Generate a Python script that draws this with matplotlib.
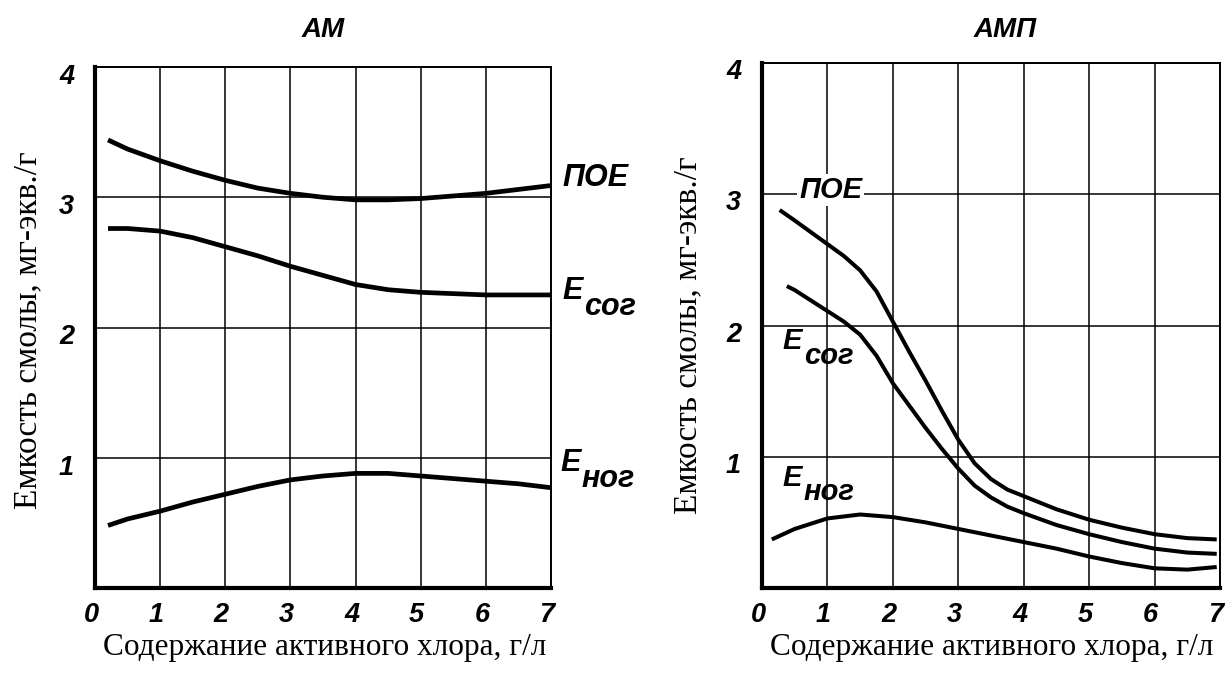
import matplotlib
matplotlib.use("Agg")
import matplotlib.pyplot as plt
from matplotlib.transforms import ScaledTranslation

# ---- data ----
x_am = [0.2, 0.5, 1, 1.5, 2, 2.5, 3, 3.5, 4, 4.5, 5, 5.5, 6, 6.5, 7]
am_poe = [3.44, 3.37, 3.28, 3.20, 3.13, 3.07, 3.03, 3.00, 2.98, 2.98, 2.99, 3.01, 3.03, 3.06, 3.09]
am_ecor = [2.76, 2.76, 2.74, 2.69, 2.62, 2.55, 2.47, 2.40, 2.33, 2.29, 2.27, 2.26, 2.25, 2.25, 2.25]
am_enor = [0.48, 0.53, 0.59, 0.66, 0.72, 0.78, 0.83, 0.86, 0.88, 0.88, 0.86, 0.84, 0.82, 0.80, 0.77]

x_amp_poe = [0.27, 0.5, 1, 1.25, 1.5, 1.75, 2, 2.25, 2.5, 2.75, 3, 3.25, 3.5, 3.75, 4, 4.5, 5, 5.5, 6, 6.5, 6.95]
amp_poe = [2.88, 2.80, 2.62, 2.53, 2.42, 2.26, 2.03, 1.80, 1.58, 1.35, 1.13, 0.95, 0.83, 0.75, 0.70, 0.60, 0.52, 0.46, 0.41, 0.38, 0.37]
x_amp_ecor = [0.38, 0.5, 1, 1.25, 1.5, 1.75, 2, 2.25, 2.5, 2.75, 3, 3.25, 3.5, 3.75, 4, 4.5, 5, 5.5, 6, 6.5, 6.95]
amp_ecor = [2.30, 2.27, 2.11, 2.03, 1.93, 1.77, 1.56, 1.39, 1.22, 1.06, 0.91, 0.78, 0.69, 0.62, 0.57, 0.48, 0.41, 0.35, 0.30, 0.27, 0.26]
x_amp_enor = [0.15, 0.5, 1, 1.5, 2, 2.5, 3, 3.5, 4, 4.5, 5, 5.5, 6, 6.5, 6.95]
amp_enor = [0.37, 0.45, 0.53, 0.56, 0.54, 0.50, 0.45, 0.40, 0.35, 0.30, 0.24, 0.19, 0.15, 0.14, 0.16]

x_ticks = [0, 1, 2, 3, 4, 5, 6, 7]
y_ticks = [1, 2, 3, 4]
titles = ["АМ", "АМП"]
xlabel = "Содержание активного хлора, г/л"
ylabel = "Емкость смолы, мг-экв./г"

W, H = 1227, 673
fig = plt.figure(figsize=(W / 100, H / 100), dpi=100)

SANS = "Liberation Sans"
SERIF = "Liberation Serif"


def px_axes(l, t, r, b):
    return fig.add_axes([l / W, 1 - b / H, (r - l) / W, (b - t) / H])


axL = px_axes(95, 67, 551, 588)
axR = px_axes(762, 63, 1220, 588)


def style(ax, ydown):
    ax.set_xlim(0, 7)
    ax.set_ylim(0, 4)
    ax.set_xticks(x_ticks)
    ax.set_yticks(y_ticks)
    ax.set_xticklabels([str(v) for v in x_ticks])
    ax.set_yticklabels([str(v) for v in y_ticks])
    ax.grid(True, color="black", linewidth=1.1)
    ax.set_axisbelow(True)
    ax.tick_params(length=0)
    ax.tick_params(axis="x", pad=10)
    ax.tick_params(axis="y", pad=15)
    for lab in ax.get_xticklabels() + ax.get_yticklabels():
        lab.set_fontfamily(SANS)
        lab.set_fontweight("bold")
        lab.set_fontstyle("italic")
        lab.set_fontsize(19.5)
    for lab in ax.get_yticklabels():
        lab.set_transform(lab.get_transform() + ScaledTranslation(0, -ydown / 100, fig.dpi_scale_trans))
    for lab in ax.get_xticklabels():
        lab.set_transform(lab.get_transform() + ScaledTranslation(-4 / 100, 0, fig.dpi_scale_trans))
    ax.spines["left"].set_linewidth(3.0)
    ax.spines["bottom"].set_linewidth(3.0)
    ax.spines["top"].set_linewidth(1.4)
    ax.spines["right"].set_linewidth(1.4)


style(axL, 7)
style(axR, 6)

lwL = 3.4
axL.plot(x_am, am_poe, color="black", lw=lwL, solid_capstyle="butt", zorder=3)
axL.plot(x_am, am_ecor, color="black", lw=lwL, solid_capstyle="butt", zorder=3)
axL.plot(x_am, am_enor, color="black", lw=lwL, solid_capstyle="butt", zorder=3)

lwR = 2.9
axR.plot(x_amp_poe, amp_poe, color="black", lw=lwR, solid_capstyle="butt", zorder=3)
axR.plot(x_amp_ecor, amp_ecor, color="black", lw=lwR, solid_capstyle="butt", zorder=3)
axR.plot(x_amp_enor, amp_enor, color="black", lw=lwR, solid_capstyle="butt", zorder=3)

lab_kw = dict(family=SANS, weight="bold", style="italic", color="black", clip_on=False)

# left panel curve labels
axL.text(7.17, 3.15, "ПОЕ", fontsize=22, ha="left", va="center", **lab_kw)
axL.text(7.18, 2.28, "E", fontsize=22, ha="left", va="center", **lab_kw)
axL.text(7.5, 2.16, "сог", fontsize=22, ha="left", va="center", **lab_kw)
axL.text(7.15, 0.96, "E", fontsize=22, ha="left", va="center", **lab_kw)
axL.text(7.47, 0.84, "ног", fontsize=22, ha="left", va="center", **lab_kw)

# right panel curve labels
axR.text(1.05, 3.03, "ПОЕ", fontsize=21, ha="center", va="center", zorder=4,
         bbox=dict(facecolor="white", edgecolor="none", pad=1.5), **lab_kw)
axR.text(0.32, 1.88, "E", fontsize=21, ha="left", va="center", zorder=4, **lab_kw)
axR.text(0.64, 1.77, "сог", fontsize=21, ha="left", va="center", zorder=4, **lab_kw)
axR.text(0.32, 0.84, "E", fontsize=21, ha="left", va="center", zorder=4, **lab_kw)
axR.text(0.64, 0.73, "ног", fontsize=21, ha="left", va="center", zorder=4, **lab_kw)

# titles
fig.text(323 / W, 1 - 30 / H, titles[0], family=SANS, weight="bold", style="italic",
         fontsize=20, ha="center", va="center")
fig.text(1005 / W, 1 - 30 / H, titles[1], family=SANS, weight="bold", style="italic",
         fontsize=20, ha="center", va="center")

# axis labels
fig.text(325 / W, 1 - 648 / H, xlabel, family=SERIF, fontsize=22.5, ha="center", va="center")
fig.text(992 / W, 1 - 648 / H, xlabel, family=SERIF, fontsize=22.5, ha="center", va="center")
fig.text(28 / W, 1 - 330 / H, ylabel, family=SERIF, fontsize=24, ha="center", va="center",
         rotation=90)
fig.text(688 / W, 1 - 335 / H, ylabel, family=SERIF, fontsize=24, ha="center", va="center",
         rotation=90)

fig.savefig("out.png", dpi=100, facecolor="white")
